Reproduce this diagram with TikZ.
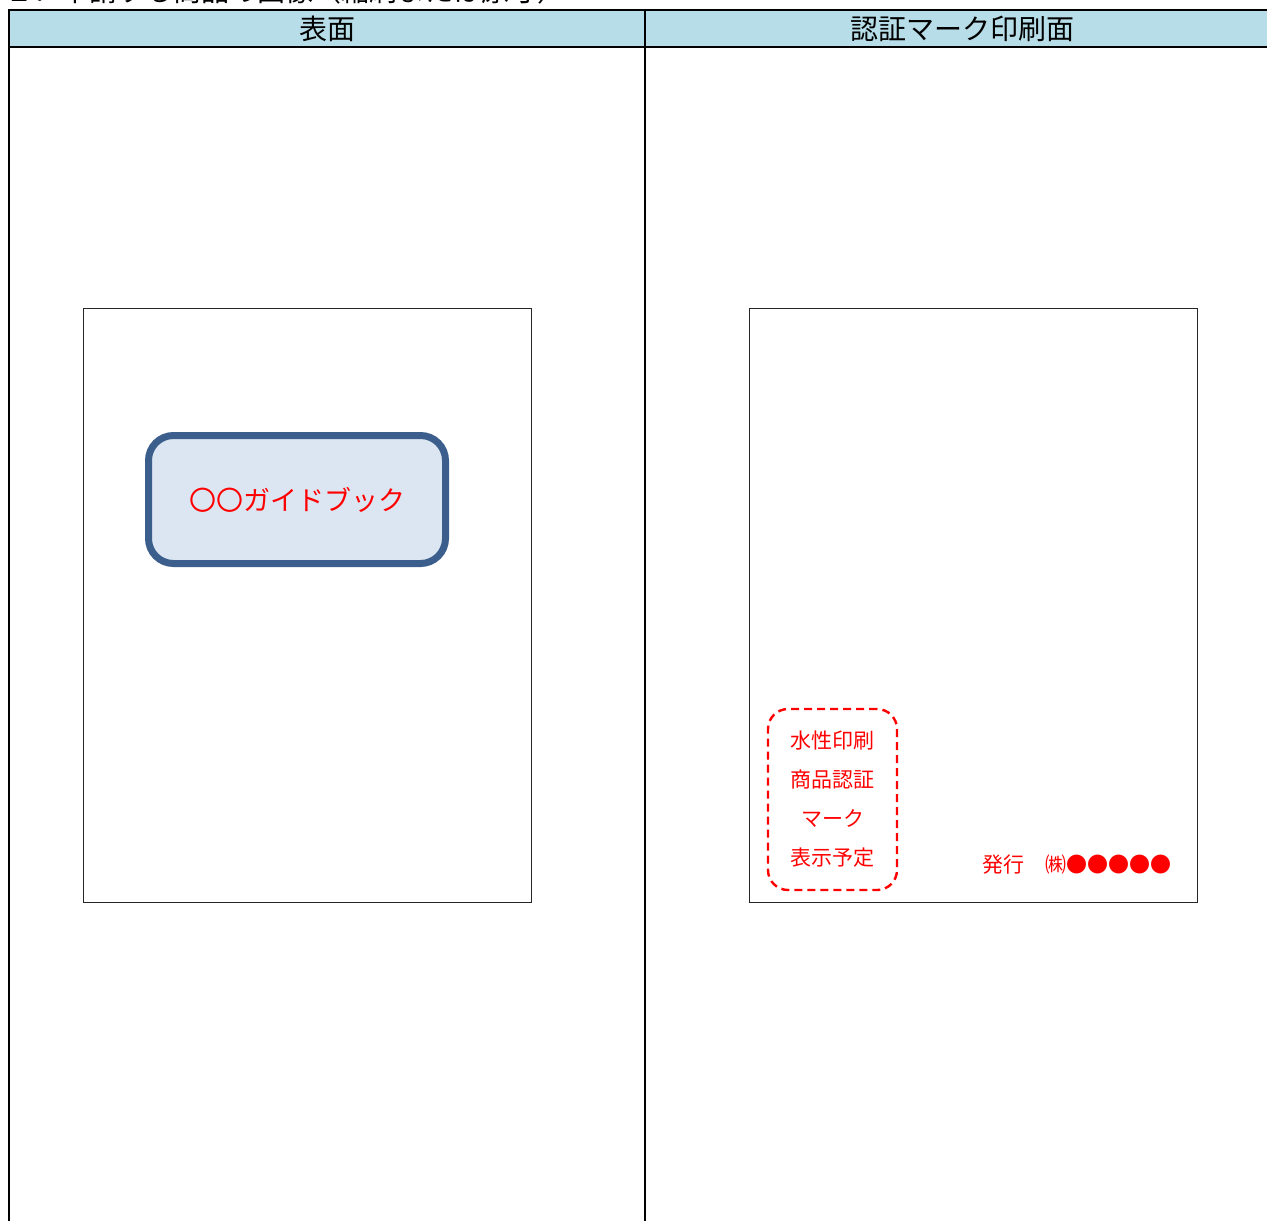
\documentclass[tikz,border=0pt]{standalone}
\usepackage{fontspec}
\setmainfont{Noto Sans CJK JP}
\definecolor{headblue}{HTML}{B7DDE8}
\definecolor{boxline}{HTML}{3B5E8C}
\definecolor{boxfill}{HTML}{DCE6F2}
\begin{document}
\begin{tikzpicture}[x=0.5pt, y=-0.5pt,
    page/.style={draw=black!85, line width=0.5pt, minimum width=224pt, minimum height=297pt, inner sep=0pt},
    guidebox/.style={draw=boxline, fill=boxfill, line width=3.5pt, rounded corners=12.5pt,
        minimum width=148.5pt, minimum height=64pt, text=red, font=\fontsize{13.5}{16}\selectfont},
    markbox/.style={draw=red, line width=1.2pt, dash pattern=on 4pt off 2.5pt, rounded corners=10pt,
        minimum width=64.5pt, minimum height=90.5pt, text=red, align=center,
        font=\fontsize{10.5}{19.5}\selectfont},
    headtext/.style={font=\fontsize{14}{16}\selectfont}]
    \useasboundingbox (0,0) rectangle (1267,1220);
    \clip (0,0) rectangle (1267,1220);
    % cut-off title line
    \node[anchor=west, headtext] (title) at (-2,-9) {２．申請する商品の画像（縮刷または原寸）};
    % table
    \fill[headblue] (9,10) rectangle (1280,47);
    \draw[line width=1.1pt] (9,1230) -- (9,10) -- (1280,10);
    \draw[line width=1.1pt] (9,47) -- (1280,47);
    \draw[line width=1.1pt] (645,10) -- (645,1230);
    \node[headtext] (fronthead) at (327,29) {表面};
    \node[headtext] (backhead) at (962,29) {認証マーク印刷面};
    % front side
    \node[page] (front) at (307,605) {};
    \node[guidebox] (guide) at (297,499.5) {〇〇ガイドブック};
    % printed side
    \node[page] (back) at (973,605) {};
    \node[markbox] (mark) at (832.5,799.5) {水性印刷\\商品認証\\マーク\\表示予定};
    \node[text=red, font=\fontsize{10.5}{12}\selectfont] (issuer) at (1077,865) {発行　㈱●●●●●};
\end{tikzpicture}
\end{document}
